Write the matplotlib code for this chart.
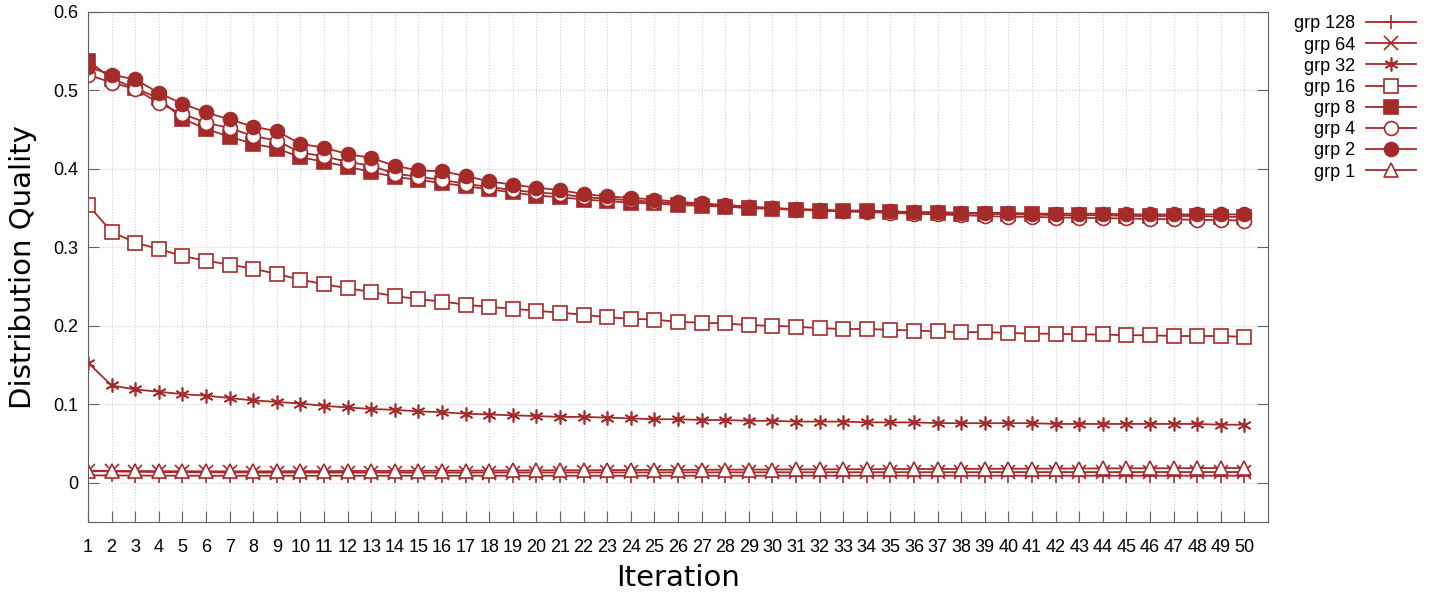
import numpy as np
import matplotlib.pyplot as plt

plt.rcParams["font.family"] = ["Liberation Sans", "DejaVu Sans"]

iterations = list(range(1, 51))

grp128 = [0.0095, 0.0093, 0.0092, 0.0091, 0.0090, 0.0090, 0.0090, 0.0090, 0.0090, 0.0090,
          0.0090, 0.0090, 0.0090, 0.0090, 0.0090, 0.0090, 0.0090, 0.0090, 0.0090, 0.0090,
          0.0090, 0.0090, 0.0090, 0.0090, 0.0090, 0.0090, 0.0090, 0.0090, 0.0090, 0.0090,
          0.0090, 0.0090, 0.0090, 0.0090, 0.0090, 0.0090, 0.0090, 0.0090, 0.0090, 0.0090,
          0.0090, 0.0090, 0.0090, 0.0090, 0.0090, 0.0090, 0.0090, 0.0090, 0.0090, 0.0090]
grp64 = [0.0150, 0.0145, 0.0140, 0.0137, 0.0135, 0.0133, 0.0132, 0.0131, 0.0130, 0.0130,
         0.0130, 0.0130, 0.0130, 0.0130, 0.0130, 0.0130, 0.0130, 0.0131, 0.0131, 0.0131,
         0.0131, 0.0132, 0.0132, 0.0132, 0.0132, 0.0133, 0.0133, 0.0133, 0.0133, 0.0134,
         0.0134, 0.0134, 0.0134, 0.0134, 0.0135, 0.0135, 0.0135, 0.0135, 0.0135, 0.0136,
         0.0136, 0.0136, 0.0136, 0.0136, 0.0136, 0.0137, 0.0137, 0.0137, 0.0137, 0.0137]
grp32 = [0.153, 0.124, 0.119, 0.116, 0.113, 0.111, 0.108, 0.105, 0.103, 0.101,
         0.098, 0.096, 0.094, 0.093, 0.091, 0.090, 0.088, 0.087, 0.086, 0.085,
         0.084, 0.084, 0.083, 0.082, 0.081, 0.081, 0.080, 0.080, 0.079, 0.079,
         0.078, 0.078, 0.078, 0.077, 0.077, 0.077, 0.076, 0.076, 0.076, 0.076,
         0.076, 0.075, 0.075, 0.075, 0.075, 0.075, 0.075, 0.075, 0.074, 0.074]
grp16 = [0.354, 0.320, 0.306, 0.298, 0.289, 0.283, 0.278, 0.273, 0.266, 0.259,
         0.253, 0.248, 0.243, 0.238, 0.234, 0.231, 0.227, 0.224, 0.222, 0.219,
         0.217, 0.214, 0.211, 0.209, 0.208, 0.205, 0.204, 0.203, 0.201, 0.200,
         0.199, 0.197, 0.196, 0.196, 0.195, 0.194, 0.193, 0.192, 0.192, 0.191,
         0.190, 0.190, 0.189, 0.189, 0.188, 0.188, 0.187, 0.187, 0.187, 0.186]
grp8 = [0.538, 0.515, 0.503, 0.490, 0.464, 0.451, 0.441, 0.432, 0.426, 0.415,
        0.409, 0.403, 0.396, 0.390, 0.386, 0.382, 0.378, 0.374, 0.370, 0.366,
        0.364, 0.361, 0.359, 0.357, 0.356, 0.354, 0.353, 0.352, 0.350, 0.349,
        0.348, 0.347, 0.346, 0.346, 0.345, 0.344, 0.344, 0.343, 0.343, 0.342,
        0.342, 0.341, 0.341, 0.341, 0.340, 0.340, 0.340, 0.340, 0.339, 0.339]
grp4 = [0.520, 0.510, 0.502, 0.484, 0.470, 0.459, 0.452, 0.442, 0.436, 0.421,
        0.416, 0.409, 0.404, 0.394, 0.390, 0.386, 0.381, 0.377, 0.373, 0.370,
        0.368, 0.364, 0.362, 0.360, 0.358, 0.356, 0.355, 0.353, 0.351, 0.350,
        0.348, 0.347, 0.346, 0.345, 0.344, 0.343, 0.342, 0.341, 0.340, 0.339,
        0.339, 0.338, 0.338, 0.337, 0.337, 0.336, 0.336, 0.335, 0.335, 0.334]
grp2 = [0.530, 0.520, 0.514, 0.497, 0.483, 0.472, 0.463, 0.454, 0.448, 0.432,
        0.427, 0.419, 0.414, 0.404, 0.398, 0.397, 0.391, 0.384, 0.380, 0.376,
        0.373, 0.368, 0.365, 0.363, 0.361, 0.358, 0.356, 0.354, 0.352, 0.350,
        0.349, 0.348, 0.347, 0.347, 0.346, 0.345, 0.345, 0.344, 0.344, 0.344,
        0.343, 0.343, 0.343, 0.343, 0.342, 0.342, 0.342, 0.342, 0.342, 0.342]
grp1 = [0.0155, 0.0152, 0.0150, 0.0148, 0.0147, 0.0146, 0.0146, 0.0146, 0.0147, 0.0148,
        0.0149, 0.0150, 0.0151, 0.0152, 0.0153, 0.0154, 0.0155, 0.0156, 0.0157, 0.0158,
        0.0159, 0.0160, 0.0161, 0.0163, 0.0164, 0.0165, 0.0166, 0.0167, 0.0168, 0.0169,
        0.0170, 0.0171, 0.0172, 0.0173, 0.0174, 0.0175, 0.0176, 0.0177, 0.0178, 0.0179,
        0.0180, 0.0181, 0.0182, 0.0183, 0.0184, 0.0185, 0.0186, 0.0187, 0.0188, 0.0189]

color = "#a52a2a"

fig = plt.figure(figsize=(14.43, 5.93), dpi=100)
ax = fig.add_axes([0.061, 0.1197, 0.8177, 0.8601])

# (label, data, marker, filled)
series = [
    ("grp 128", grp128, "+", True),
    ("grp 64", grp64, "x", True),
    ("grp 32", grp32, (6, 2, 0), True),
    ("grp 16", grp16, "s", False),
    ("grp 8", grp8, "s", True),
    ("grp 4", grp4, "o", False),
    ("grp 2", grp2, "o", True),
    ("grp 1", grp1, "^", False),
]

for label, vals, marker, filled in series:
    ax.plot(iterations, vals, color=color, lw=1.3, marker=marker, markersize=10,
            markerfacecolor=color if filled else "white", markeredgecolor=color,
            markeredgewidth=1.2, label=label)

ax.set_xlim(1, 51)
ax.set_ylim(-0.05, 0.6)
ax.set_xticks(iterations)
ax.set_yticks([0, 0.1, 0.2, 0.3, 0.4, 0.5, 0.6])
ax.set_yticklabels(["0", "0.1", "0.2", "0.3", "0.4", "0.5", "0.6"])
ax.tick_params(direction="in", labelsize=13, length=8, right=True, color="#606060")
ax.tick_params(axis="x", pad=12)
ax.tick_params(axis="y", pad=7)
ax.grid(True, color="#d0d0d0", linestyle=":", linewidth=0.8)
ax.set_axisbelow(True)
for s in ax.spines.values():
    s.set_color("#606060")

ax.set_xlabel("Iteration", fontsize=21, family="DejaVu Sans", labelpad=6)
ax.set_ylabel("Distribution Quality", fontsize=21, family="DejaVu Sans", labelpad=12)

ax.legend(loc="upper left", bbox_to_anchor=(1.008, 1.025), frameon=False,
          markerfirst=False, fontsize=13, handlelength=2.8, handletextpad=0.6,
          labelspacing=0.23, alignment="right")
for t in ax.get_legend().get_texts():
    t.set_ha("right")

fig.savefig("out.png", dpi=100)
